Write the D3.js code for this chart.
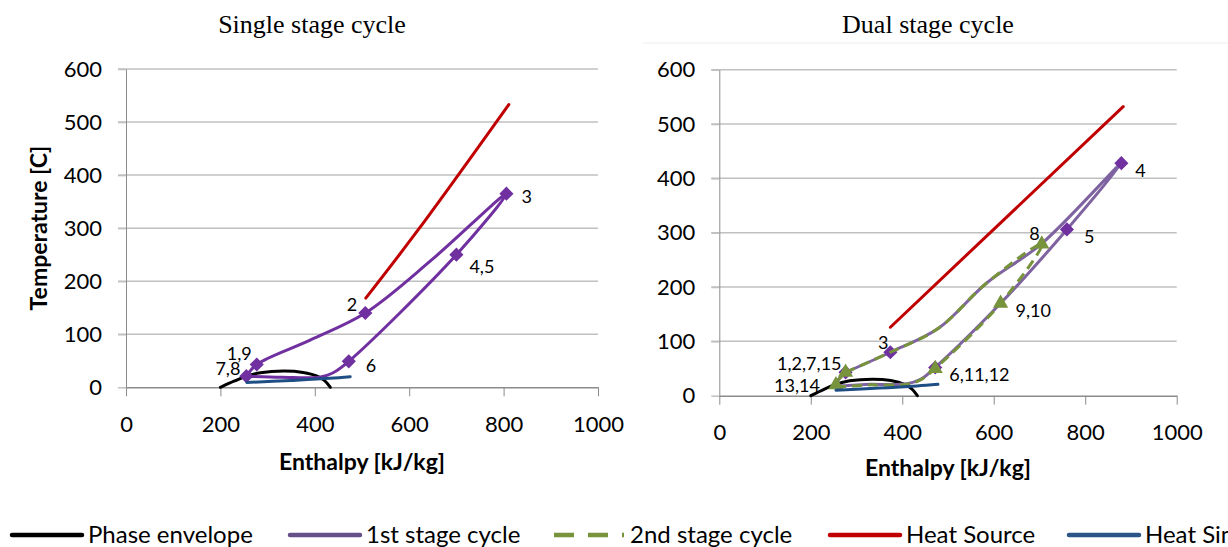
<!DOCTYPE html>
<html>
<head>
<meta charset="utf-8">
<script src="https://cdn.jsdelivr.net/npm/d3@7"></script>
<style>
  body { margin: 0; background: #fff; }
  svg { display: block; }
</style>
</head>
<body>
<svg id="chart" width="1228" height="547"></svg>
<script>
// ---------- data ----------
const xTicks = [0, 200, 400, 600, 800, 1000];
const yTicks = [0, 100, 200, 300, 400, 500, 600];

// phase envelope of the working fluid (enthalpy kJ/kg, temperature C)
const envelopeH = [200, 230, 255, 285, 335, 375, 405, 420, 433];
const envelopeT = [0, 12, 21, 27.5, 30.5, 28, 21, 13, 0];

// single stage cycle
const singleCycleH = [255, 277, 390, 507, 650, 806, 700, 472, 438, 410, 330, 255];
const singleCycleT = [21, 43, 89, 140, 242, 365, 250, 49, 27, 19, 19, 21];
const singleStateLabels = ["7,8", "1,9", "2", "3", "4,5", "6"];
const singleStateH = [255, 277, 507, 806, 700, 472];
const singleStateT = [21, 43, 140, 365, 250, 49];
const singleSourceH = [508, 620, 811];
const singleSourceT = [168, 298, 533];
const singleSinkH = [256, 350, 432, 475];
const singleSinkT = [9, 13, 17, 20];

// dual stage cycle: first stage
const firstStageH = [276, 374, 479, 584, 705, 879, 760, 615, 472, 440, 410, 330, 255, 276];
const firstStageT = [43, 80, 124, 207, 280, 428, 306, 170, 52, 30, 22, 21, 21, 43];
const firstStateH = [276, 374, 879, 760, 472];
const firstStateT = [43, 80, 428, 306, 52];
// dual stage cycle: second stage
const secondStageH = [276, 374, 479, 584, 705, 615, 472, 440, 410, 330, 255, 276];
const secondStageT = [43, 80, 124, 207, 279, 170, 50, 29, 21, 20, 20, 43];
const secondStateH = [276, 705, 615, 472, 255];
const secondStateT = [43, 279, 170, 50, 20];
const dualStateLabels = ["1,2,7,15", "3", "4", "5", "8", "9,10", "6,11,12", "13,14"];
const dualStateH = [276, 374, 879, 760, 705, 615, 472, 255];
const dualStateT = [43, 80, 428, 306, 279, 170, 50, 20];
const dualSourceH = [374, 883];
const dualSourceT = [126, 532];
const dualSinkH = [255, 350, 432, 478];
const dualSinkT = [10, 14, 18, 21];

const legendNames = ["Phase envelope", "1st stage cycle", "2nd stage cycle", "Heat Source", "Heat Sink"];

// ---------- styling ----------
const C = {
  envelope: "#000000",
  purple: "#7030A0",
  purpleMuted: "#7F63A0",
  green: "#77933C",
  red: "#C00000",
  blue: "#1F4E85",
  grid: "#C0C0C0",
  axis: "#8C8C8C"
};
const sans = "Lato, 'Open Sans', sans-serif";
const serif = "'Liberation Serif', 'DejaVu Serif', serif";

const zip = (h, t) => h.map((v, i) => [v, t[i]]);

const svg = d3.select("#chart");

// label placement around state points: [dx, dy, anchor]
const labelPlace = {
  "7,8": [-6, -7, "end"], "1,9": [-5, -11, "end"], "2": [-8, -8, "end"],
  "3s": [15, 3, "start"], "4,5": [13, 12, "start"], "6s": [17, 4, "start"],
  "1,2,7,15": [-4, -9, "end"], "3": [-2, -10, "end"], "4": [14, 8, "start"],
  "5": [17, 7, "start"], "8": [-2, -10, "end"], "9,10": [15, 7, "start"],
  "6,11,12": [14, 6, "start"], "13,14": [-16, 1, "end"]
};

function panel(cfg) {
  const x = d3.scaleLinear().domain([0, 1000]).range([cfg.x0, cfg.x1]);
  const y = d3.scaleLinear().domain([0, 600]).range([cfg.y0, cfg.y1]);
  const g = svg.append("g");

  // title
  g.append("text").attr("x", cfg.titleX).attr("y", 33)
    .attr("text-anchor", "middle").attr("font-family", serif)
    .attr("font-size", 26).attr("fill", "#000").text(cfg.title);

  // horizontal gridlines (extend left as ticks)
  g.append("g").selectAll("line").data(yTicks.filter(d => d > 0)).join("line")
    .attr("x1", cfg.x0 - 8).attr("x2", cfg.x1)
    .attr("y1", d => y(d)).attr("y2", d => y(d))
    .attr("stroke", C.grid).attr("stroke-width", 1.5);

  // y axis
  const yAxis = g.append("g").attr("transform", `translate(${cfg.x0},0)`)
    .call(d3.axisLeft(y).tickValues(yTicks).tickFormat(d3.format("d"))
      .tickSize(8).tickPadding(16).tickSizeOuter(0));
  yAxis.select(".domain").attr("stroke", C.axis);
  yAxis.selectAll(".tick line").attr("stroke", C.grid).attr("stroke-width", 1.5);
  yAxis.selectAll(".tick text").attr("font-family", sans).attr("font-size", 22).attr("fill", "#000");

  // x axis
  const xAxis = g.append("g").attr("transform", `translate(0,${cfg.y0})`)
    .call(d3.axisBottom(x).tickValues(xTicks).tickFormat(d3.format("d"))
      .tickSize(9).tickPadding(20).tickSizeOuter(0));
  xAxis.select(".domain").attr("stroke", C.axis).attr("stroke-width", 1.5);
  xAxis.selectAll(".tick line").attr("stroke", C.axis);
  xAxis.selectAll(".tick text").attr("font-family", sans).attr("font-size", 22).attr("fill", "#000");

  // axis titles
  g.append("text").attr("x", (cfg.x0 + cfg.x1) / 2).attr("y", cfg.xTitleY)
    .attr("text-anchor", "middle").attr("font-family", sans).attr("font-weight", "bold")
    .attr("font-size", 23).attr("fill", "#000").text("Enthalpy [kJ/kg]");
  if (cfg.yTitle) {
    g.append("text").attr("transform", `translate(47,${(cfg.y0 + cfg.y1) / 2}) rotate(-90)`)
      .attr("text-anchor", "middle").attr("font-family", sans).attr("font-weight", "bold")
      .attr("font-size", 23).attr("fill", "#000").text(cfg.yTitle);
  }

  const line = d3.line().x(d => x(d[0])).y(d => y(d[1])).curve(d3.curveCatmullRom.alpha(0.5));
  const plot = g.append("g");
  cfg.series.forEach(s => {
    plot.append("path").datum(s.pts).attr("d", line).attr("fill", "none")
      .attr("stroke", s.color).attr("stroke-width", 3)
      .attr("stroke-linejoin", "round").attr("stroke-linecap", s.dash ? "butt" : "round")
      .attr("stroke-dasharray", s.dash || null);
    if (s.markers) {
      const sym = d3.symbol().type(s.markerType).size(s.markerSize)();
      plot.append("g").selectAll("path").data(s.markers).join("path")
        .attr("d", sym)
        .attr("transform", d => `translate(${x(d[0])},${y(d[1])})` + (s.markerType === d3.symbolSquare ? " rotate(45)" : ""))
        .attr("fill", s.markerColor);
    }
  });

  // state labels
  plot.append("g").selectAll("text").data(cfg.labels).join("text")
    .attr("x", d => x(d.h) + labelPlace[d.key][0])
    .attr("y", d => y(d.t) + labelPlace[d.key][1])
    .attr("dy", "0.35em")
    .attr("text-anchor", d => labelPlace[d.key][2])
    .attr("font-family", sans).attr("font-size", 18).attr("fill", "#000")
    .text(d => d.text);
}

// single stage panel
panel({
  title: "Single stage cycle", titleX: 312,
  x0: 126, x1: 598, y0: 387.3, y1: 69, xTitleY: 470, yTitle: "Temperature [C]",
  series: [
    { pts: zip(envelopeH, envelopeT), color: C.envelope },
    { pts: zip(singleCycleH, singleCycleT), color: C.purple,
      markers: zip(singleStateH, singleStateT), markerType: d3.symbolSquare, markerSize: 100, markerColor: C.purple },
    { pts: zip(singleSourceH, singleSourceT), color: C.red },
    { pts: zip(singleSinkH, singleSinkT), color: C.blue }
  ],
  labels: singleStateLabels.map((t, i) => ({
    text: t, key: (t === "3" || t === "6") ? t + "s" : t, h: singleStateH[i], t: singleStateT[i]
  }))
});

// dual stage panel
svg.append("line").attr("x1", 643).attr("x2", 1228).attr("y1", 43).attr("y2", 43)
  .attr("stroke", "#EDEDED").attr("stroke-width", 1);
panel({
  title: "Dual stage cycle", titleX: 928,
  x0: 719.3, x1: 1176.7, y0: 395.7, y1: 69.7, xTitleY: 476, yTitle: null,
  series: [
    { pts: zip(envelopeH, envelopeT), color: C.envelope },
    { pts: zip(firstStageH, firstStageT), color: C.purpleMuted,
      markers: zip(firstStateH, firstStateT), markerType: d3.symbolSquare, markerSize: 100, markerColor: C.purple },
    { pts: zip(secondStageH, secondStageT), color: C.green, dash: "10,6",
      markers: zip(secondStateH, secondStateT), markerType: d3.symbolTriangle, markerSize: 100, markerColor: C.green },
    { pts: zip(dualSourceH, dualSourceT), color: C.red },
    { pts: zip(dualSinkH, dualSinkT), color: C.blue }
  ],
  labels: dualStateLabels.map((t, i) => ({ text: t, key: t, h: dualStateH[i], t: dualStateT[i] }))
});

// legend
const legendStyle = [
  { color: C.envelope, dash: null },
  { color: "#66508A", dash: null },
  { color: C.green, dash: "20,14" },
  { color: C.red, dash: null },
  { color: "#2B5587", dash: null }
];
const legendX = [12, 290, 554, 830, 1069];
const legendY = 535;
const lg = svg.append("g");
legendNames.forEach((name, i) => {
  const st = legendStyle[i];
  lg.append("line").attr("x1", legendX[i]).attr("x2", legendX[i] + 70)
    .attr("y1", legendY).attr("y2", legendY)
    .attr("stroke", st.color).attr("stroke-width", 4.5)
    .attr("stroke-linecap", st.dash ? "butt" : "round")
    .attr("stroke-dasharray", st.dash);
  lg.append("text").attr("x", legendX[i] + 76).attr("y", legendY).attr("dy", "0.35em")
    .attr("font-family", sans).attr("font-size", 24).attr("fill", "#000").text(name);
});
</script>
</body>
</html>
